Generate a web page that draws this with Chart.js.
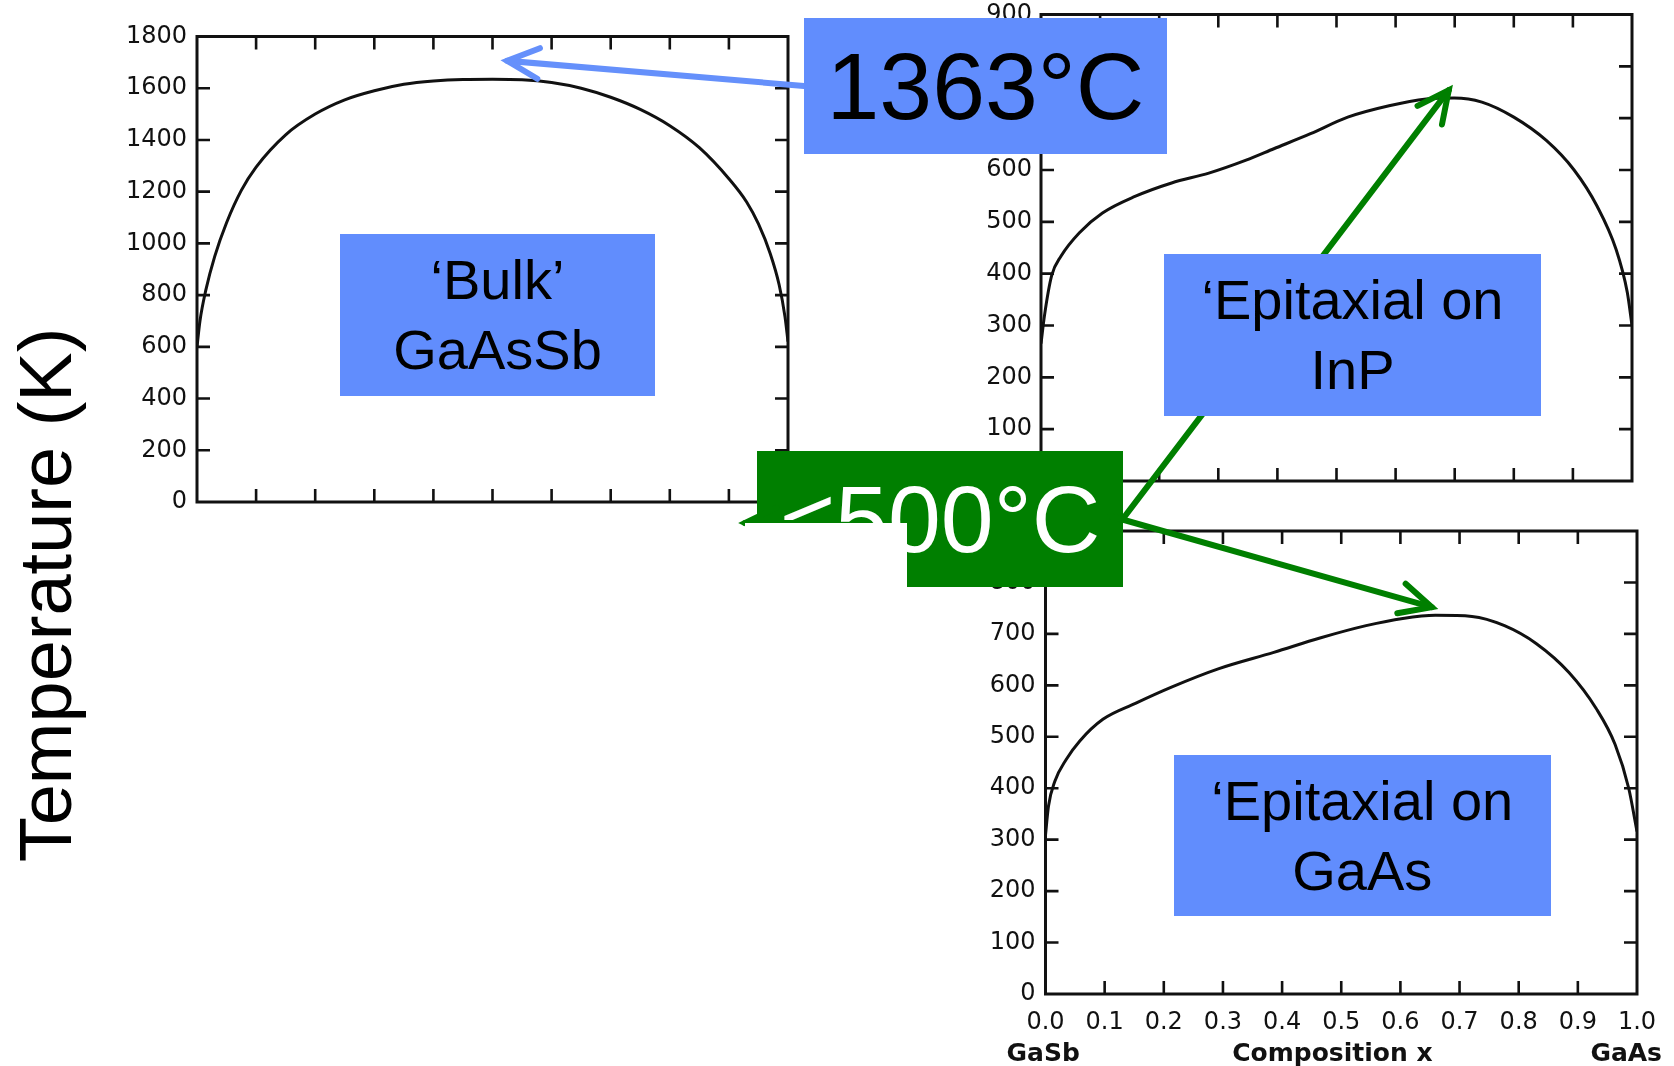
<!DOCTYPE html>
<html>
<head>
<meta charset="utf-8">
<title>GaAsSb miscibility gap</title>
<script src="https://cdn.jsdelivr.net/npm/chart.js@4.4.1/dist/chart.umd.min.js"></script>
<style>
  html, body { margin: 0; padding: 0; background: #fff; }
  #page { position: relative; width: 1674px; height: 1066px; overflow: hidden; background: #fff;
          font-family: "Liberation Sans", Arial, Helvetica, sans-serif; }
  .box { position: absolute; display: flex; flex-direction: column; align-items: center;
         justify-content: center; text-align: center; white-space: nowrap; }
  .blue { background: #618dfd; color: #000; }
  .green { background: #007f00; color: #fff; }
  .two { font-size: 56px; line-height: 70px; }
  .big { font-size: 95px; line-height: 110px; }
  .ytitle { position: absolute; left: 45px; top: 595px; font-size: 74px; color: #000; white-space: nowrap;
            transform: translate(-50%, -50%) rotate(-90deg); }
  svg.layer { position: absolute; left: 0; top: 0; width: 1674px; height: 1066px; overflow: visible; }
</style>
</head>
<body>
<div id="page">
  <div class="ytitle" id="ytitle"></div>
</div>
<script>
// ---- Composition axis (shared by the three panels) ----
const xTickLabels = ['0.0', '0.1', '0.2', '0.3', '0.4', '0.5', '0.6', '0.7', '0.8', '0.9', '1.0'];
const xEndLabels = ['GaSb', 'GaAs'];
const xTitle = 'Composition x';
const yTitle = 'Temperature (K)';

// ---- Temperature ticks ----
const yTicksBulk = [0, 200, 400, 600, 800, 1000, 1200, 1400, 1600, 1800];
const yTicksEpi = [0, 100, 200, 300, 400, 500, 600, 700, 800, 900];

// ---- Bulk GaAsSb miscibility gap (K) ----
const bulkX = [0, 0.005, 0.015, 0.03, 0.05, 0.075, 0.1, 0.15, 0.2, 0.25, 0.3, 0.35, 0.4, 0.45, 0.5,
               0.55, 0.6, 0.65, 0.7, 0.75, 0.8, 0.85, 0.9, 0.93, 0.95, 0.97, 0.985, 0.995, 1.0];
const bulkT = [600, 700, 820, 950, 1080, 1205, 1295, 1420, 1500, 1555, 1590, 1615, 1628, 1634, 1635,
               1633, 1622, 1600, 1565, 1518, 1455, 1370, 1250, 1160, 1075, 960, 840, 715, 620];

// ---- Epitaxial on InP (K) ----
const inpX = [0, 0.006, 0.018, 0.034, 0.065, 0.104, 0.159, 0.221, 0.284, 0.347, 0.394, 0.456, 0.519,
              0.589, 0.652, 0.699, 0.746, 0.8, 0.855, 0.902, 0.941, 0.973, 0.992, 1.0];
const inpT = [265, 320, 396, 434, 479, 517, 549, 575, 594, 619, 641, 670, 702,
              724, 737, 739, 731, 702, 657, 600, 530, 447, 364, 300];

// ---- Epitaxial on GaAs (K) ----
const gaasX = [0, 0.005, 0.016, 0.035, 0.058, 0.097, 0.152, 0.214, 0.292, 0.386, 0.464, 0.542, 0.604,
               0.659, 0.721, 0.776, 0.83, 0.885, 0.931, 0.963, 0.986, 1.0];
const gaasT = [309, 365, 414, 456, 492, 534, 565, 597, 632, 664, 692, 716, 730,
               736, 734, 716, 681, 625, 555, 485, 400, 316];

// ---- Callout text ----
const bulkTempLabel = '1363°C';
const epiTempLabel = '<500°C';
const bulkBoxLines = ['‘Bulk’', 'GaAsSb'];
const inpBoxLines = ['‘Epitaxial on', 'InP'];
const gaasBoxLines = ['‘Epitaxial on', 'GaAs'];

// Arrow tips, in each panel's own (x, T) data units
const bulkArrowTip = [0.525, 1706];
const inpArrowTip = [0.69, 754];
const gaasArrowTip = [0.653, 752];

const page = document.getElementById('page');
document.getElementById('ytitle').textContent = yTitle;

const INK = '#111';
const tickFont = { family: 'DejaVu Sans', size: 24 };

// Closed frame with inward tick marks on all four sides, plus end labels under the x axis
const frameTicks = {
  id: 'frameTicks',
  afterDatasetsDraw(chart, args, opts) {
    const { ctx, chartArea: a, scales: { x, y } } = chart;
    const len = opts.len;
    ctx.save();
    ctx.strokeStyle = INK;
    ctx.lineWidth = 2.6;
    ctx.beginPath();
    xTickLabels.forEach(lbl => {
      const v = parseFloat(lbl);
      if (v <= 0 || v >= 1) return;
      const px = x.getPixelForValue(v);
      ctx.moveTo(px, a.top); ctx.lineTo(px, a.top + len);
      ctx.moveTo(px, a.bottom); ctx.lineTo(px, a.bottom - len);
    });
    y.ticks.forEach(t => {
      if (t.value <= y.min || t.value >= y.max) return;
      const py = y.getPixelForValue(t.value);
      ctx.moveTo(a.left, py); ctx.lineTo(a.left + len, py);
      ctx.moveTo(a.right, py); ctx.lineTo(a.right - len, py);
    });
    ctx.stroke();
    ctx.lineWidth = 3;
    ctx.strokeRect(a.left, a.top, a.right - a.left, a.bottom - a.top);
    if (opts.endLabels) {
      ctx.fillStyle = INK;
      ctx.font = 'bold 25px "DejaVu Sans"';
      ctx.textBaseline = 'middle';
      const ly = a.bottom + 60;
      ctx.textAlign = 'left';
      ctx.fillText(xEndLabels[0], x.getPixelForValue(0) - 39, ly);
      ctx.textAlign = 'right';
      ctx.fillText(xEndLabels[1], x.getPixelForValue(1) + 25, ly);
      ctx.textAlign = 'center';
      ctx.fillText(xTitle, x.getPixelForValue(0.485), ly);
    }
    ctx.restore();
  }
};

function makePanel(p) {
  const c = document.createElement('canvas');
  c.width = p.w; c.height = p.h;
  c.style.cssText = `position:absolute;left:${p.left}px;top:${p.top}px;width:${p.w}px;height:${p.h}px;z-index:0;`;
  page.appendChild(c);
  return new Chart(c, {
    type: 'line',
    data: {
      datasets: [{
        data: p.xs.map((xv, i) => ({ x: xv, y: p.ys[i] })),
        borderColor: INK, borderWidth: 3, pointRadius: 0,
        cubicInterpolationMode: 'monotone', fill: false
      }]
    },
    options: {
      responsive: false, animation: false, devicePixelRatio: 1,
      layout: { padding: { left: 0, right: p.padR, top: p.padT, bottom: p.padB } },
      plugins: {
        legend: { display: false }, tooltip: { enabled: false },
        frameTicks: { len: 13, endLabels: p.showX }
      },
      scales: {
        x: {
          type: 'linear', min: 0, max: 1, display: p.showX,
          grid: { display: false, drawTicks: false }, border: { display: false },
          afterBuildTicks: s => { s.ticks = xTickLabels.map(l => ({ value: parseFloat(l) })); },
          ticks: { padding: 14, font: tickFont, color: INK, maxRotation: 0, autoSkip: false,
                   callback: (v, i) => xTickLabels[i] },
          afterFit: s => { s.height = p.xH; }
        },
        y: {
          type: 'linear', min: p.yTicks[0], max: p.yTicks[p.yTicks.length - 1],
          grid: { display: false, drawTicks: false }, border: { display: false },
          afterBuildTicks: s => { s.ticks = p.yTicks.map(v => ({ value: v })); },
          ticks: { padding: p.yPad, font: tickFont, color: INK, autoSkip: false,
                   callback: v => String(v) },
          afterFit: s => { s.width = p.yW; }
        }
      }
    },
    plugins: [frameTicks]
  });
}

const bulkChart = makePanel({ left: 100, top: -20, w: 700, h: 560, yW: 97, padR: 12, padT: 56.5, padB: 38,
  xs: bulkX, ys: bulkT, yTicks: yTicksBulk, yPad: 10, showX: false, xH: 0 });
const inpChart = makePanel({ left: 950, top: -30, w: 710, h: 540, yW: 91, padR: 28, padT: 44.5, padB: 29,
  xs: inpX, ys: inpT, yTicks: yTicksEpi, yPad: 9, showX: false, xH: 0 });
const gaasChart = makePanel({ left: 950, top: 480, w: 724, h: 586, yW: 95.5, padR: 37, padT: 51, padB: 0,
  xs: gaasX, ys: gaasT, yTicks: yTicksEpi, yPad: 10, showX: true, xH: 72 });

// Page position of a data point in one of the panels
function pagePoint(chart, pt) {
  const r = chart.canvas;
  return [parseFloat(r.style.left) + chart.scales.x.getPixelForValue(pt[0]),
          parseFloat(r.style.top) + chart.scales.y.getPixelForValue(pt[1])];
}

const SVGNS = 'http://www.w3.org/2000/svg';
function arrowLayer(z, color, arrows) {
  const svg = document.createElementNS(SVGNS, 'svg');
  svg.setAttribute('class', 'layer');
  svg.setAttribute('viewBox', '0 0 1674 1066');
  svg.style.zIndex = z;
  arrows.forEach(([from, to]) => {
    const dx = from[0] - to[0], dy = from[1] - to[1];
    const ang = Math.atan2(dy, dx), head = 35, spread = 26 * Math.PI / 180;
    const b1 = [to[0] + head * Math.cos(ang + spread), to[1] + head * Math.sin(ang + spread)];
    const b2 = [to[0] + head * Math.cos(ang - spread), to[1] + head * Math.sin(ang - spread)];
    const line = document.createElementNS(SVGNS, 'line');
    line.setAttribute('x1', from[0]); line.setAttribute('y1', from[1]);
    line.setAttribute('x2', to[0]); line.setAttribute('y2', to[1]);
    const headPath = document.createElementNS(SVGNS, 'polyline');
    headPath.setAttribute('points', `${b1[0]},${b1[1]} ${to[0]},${to[1]} ${b2[0]},${b2[1]}`);
    [line, headPath].forEach(el => {
      el.setAttribute('stroke', color); el.setAttribute('stroke-width', 6);
      el.setAttribute('fill', 'none'); el.setAttribute('stroke-linecap', 'round');
      el.setAttribute('stroke-linejoin', 'miter');
      svg.appendChild(el);
    });
  });
  page.appendChild(svg);
}

function addBox(cls, x, y, w, h, lines, z) {
  const d = document.createElement('div');
  d.className = 'box ' + cls;
  d.style.cssText = `left:${x}px;top:${y}px;width:${w}px;height:${h}px;z-index:${z};`;
  lines.forEach(t => { const s = document.createElement('div'); s.textContent = t; d.appendChild(s); });
  page.appendChild(d);
  return d;
}

// Blue callout: bulk critical temperature
arrowLayer(1, '#6590fb', [[[804, 86], pagePoint(bulkChart, bulkArrowTip)]]);
addBox('blue big', 804, 18, 363, 136, [bulkTempLabel], 2);

// Green callout: epitaxial critical temperatures
addBox('green big', 757, 451, 366, 136, [epiTempLabel], 3);
arrowLayer(4, '#007f00', [
  [[1122, 520], pagePoint(inpChart, inpArrowTip)],
  [[1110, 516], pagePoint(gaasChart, gaasArrowTip)],
  [[820, 523], [745, 523]]
]);

// Panel captions
addBox('blue two', 340, 234, 315, 162, bulkBoxLines, 5);
addBox('blue two', 1164, 254, 377, 162, inpBoxLines, 5);
addBox('blue two', 1173.5, 755, 377.5, 161, gaasBoxLines, 5);

// Blank patch over the lower left of the green callout
const patch = document.createElement('div');
patch.style.cssText = 'position:absolute;left:745px;top:523px;width:162px;height:75px;background:#fff;z-index:6;';
page.appendChild(patch);
</script>
</body>
</html>
